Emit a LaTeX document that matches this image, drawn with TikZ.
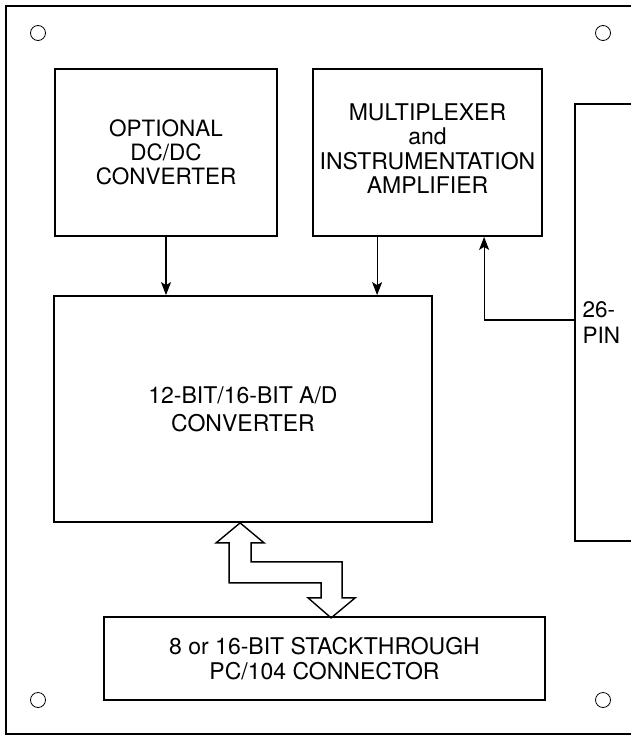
\documentclass[tikz,border=0pt]{standalone}
\usepackage{fontspec}
\setmainfont{TeX Gyre Heros}
\usetikzlibrary{arrows.meta,calc}
\begin{document}
\begin{tikzpicture}[x=1pt,y=-1pt,
	box/.style={rectangle,draw,line width=1.8pt,align=center,inner sep=0pt,font=\fontsize{22.5}{24}\selectfont},
	->,>={Stealth[length=13pt,width=10pt,inset=3pt]}, line width=1.2pt]
	\clip (0,0) rectangle (631,736);
	% board outline and mounting holes
	\draw[-,line width=2.4pt] (640,6) -- (6,6) -- (6,734) -- (640,734);
	\foreach \hx/\hy in {38/33,603/33,38/700,603/700}
		\draw[-,line width=0.8pt] (\hx,\hy) circle (7.5);
	\node[box,minimum width=222,minimum height=167]	(A) at (166,152.5)	{OPTIONAL\\DC/DC\\CONVERTER};
	\node[box,minimum width=229,minimum height=167,font=\fontsize{23}{24.5}\selectfont]	(B) at (427.5,152.5)	{MULTIPLEXER\\and\\INSTRUMENTATION\\AMPLIFIER\\[-17pt]};
	\node[box,minimum width=378,minimum height=226,font=\fontsize{23}{28}\selectfont]	(C) at (243,409)	{12-BIT/16-BIT A/D\\CONVERTER};
	\node[box,minimum width=441,minimum height=83,font=\fontsize{23}{25}\selectfont]	(D) at (324.5,658.5)	{8 or 16-BIT STACKTHROUGH\\PC/104 CONNECTOR};
	\node[box,minimum width=130,minimum height=437]	(E) at (640,322.5)	{};
	\node[anchor=west,align=left,inner sep=0pt,font=\fontsize{22.5}{26}\selectfont] (E1) at ([xshift=8]E.west) {26-\\PIN};
	\coordinate (B1) at ($(B.south west)+(65,0)$);
	\coordinate (B2) at ($(B.south west)+(172,0)$);
	\coordinate (E2) at ($(E.west)+(0,-2.5)$);
	\path
	(A) edge	(A |- C.north)
	(B1) edge	(B1 |- C.north)
	;
	\draw (E2) -| (B2);
	% bus arrow between A/D and PC/104
	\draw[-,line width=1.4pt,line join=miter] ($(C.south west)+(187,0)$)
		-- ++(24,20) -- ++(-13,0) -- ++(0,19) -- ++(91,0) -- ++(0,36) -- ++(13,0)
		-- ++(-24,20) -- ++(-23,-20) -- ++(13,0) -- ++(0,-15) -- ++(-92,0)
		-- ++(0,-40) -- ++(-13,0) -- cycle;
\end{tikzpicture}
\end{document}
